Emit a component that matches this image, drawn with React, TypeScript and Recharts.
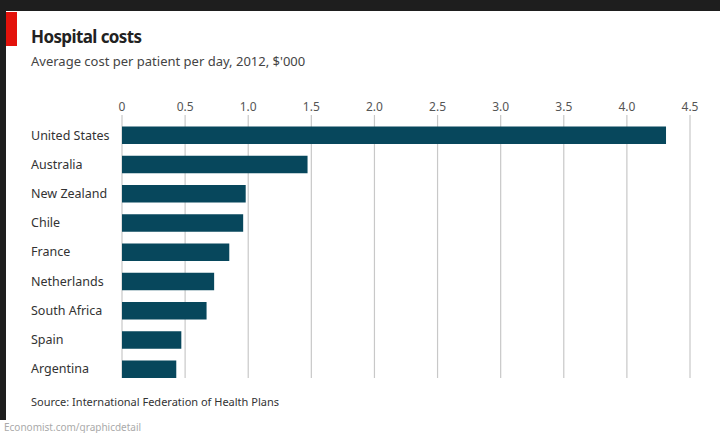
import { BarChart, Bar, XAxis, YAxis, CartesianGrid } from "recharts"

const countries = [
  "United States",
  "Australia",
  "New Zealand",
  "Chile",
  "France",
  "Netherlands",
  "South Africa",
  "Spain",
  "Argentina",
]

const costs = [4.31, 1.47, 0.98, 0.96, 0.85, 0.73, 0.67, 0.47, 0.43]

const xTicks = [0, 0.5, 1, 1.5, 2, 2.5, 3, 3.5, 4, 4.5]

const data = countries.map((name, i) => ({ name, cost: costs[i] }))

const FONT = "'Noto Sans', sans-serif"

function CountryTick(props: any) {
  const { y, payload } = props
  return (
    <text x={31} y={y} dy="0.35em" textAnchor="start" fill="#333" fontSize={12.5} fontFamily={FONT}>
      {payload.value}
    </text>
  )
}

function App() {
  return (
    <div
      style={{
        position: "fixed",
        left: 0,
        top: 0,
        width: 720,
        height: 433,
        background: "#1e1e1e",
        overflow: "hidden",
        fontFamily: FONT,
      }}
    >
      <div
        style={{
          position: "absolute",
          left: 6,
          top: 11,
          width: 714,
          height: 409,
          background: "#fff",
        }}
      />
      <div
        style={{
          position: "absolute",
          left: 0,
          top: 420,
          width: 720,
          height: 13,
          background: "#fff",
        }}
      />
      <div style={{ position: "absolute", left: 6, top: 12, width: 11, height: 34, background: "#e3120b" }} />
      <div
        style={{
          position: "absolute",
          left: 31,
          top: 26,
          fontSize: 17,
          fontWeight: 700,
          color: "#222",
          lineHeight: "21px",
          letterSpacing: -0.6,
        }}
      >
        Hospital costs
      </div>
      <div
        style={{ position: "absolute", left: 31, top: 52, fontSize: 13, color: "#444", lineHeight: "18px" }}
      >
        Average cost per patient per day, 2012, $'000
      </div>
      <div style={{ position: "absolute", left: 0, top: 0 }}>
        <BarChart
          width={720}
          height={433}
          layout="vertical"
          data={data}
          margin={{ top: 85, right: 30, bottom: 55, left: 0 }}
          barSize={17.5}
        >
          <CartesianGrid horizontal={false} stroke="#c8c8c8" strokeWidth={1.2} />
          <XAxis
            type="number"
            orientation="top"
            domain={[0, 4.5]}
            ticks={xTicks}
            height={30}
            axisLine={false}
            tickLine={false}
            tickSize={0}
            tickMargin={4}
            interval={0}
            tickFormatter={(v: number) => (v === 0 ? "0" : v.toFixed(1))}
            tick={{ fill: "#555", fontSize: 12, fontFamily: FONT }}
          />
          <YAxis
            type="category"
            dataKey="name"
            width={122}
            axisLine={false}
            tickLine={false}
            interval={0}
            padding={{ top: 5.6, bottom: -5.6 }}
            tick={<CountryTick />}
          />
          <Bar dataKey="cost" fill="#07475c" isAnimationActive={false} />
        </BarChart>
      </div>
      <div
        style={{ position: "absolute", left: 31, top: 394, fontSize: 11, color: "#333", lineHeight: "16px" }}
      >
        Source: International Federation of Health Plans
      </div>
      <div
        style={{ position: "absolute", left: 4, top: 421, fontSize: 10, color: "#aaa", lineHeight: "12px" }}
      >
        Economist.com/graphicdetail
      </div>
    </div>
  )
}

export default App
